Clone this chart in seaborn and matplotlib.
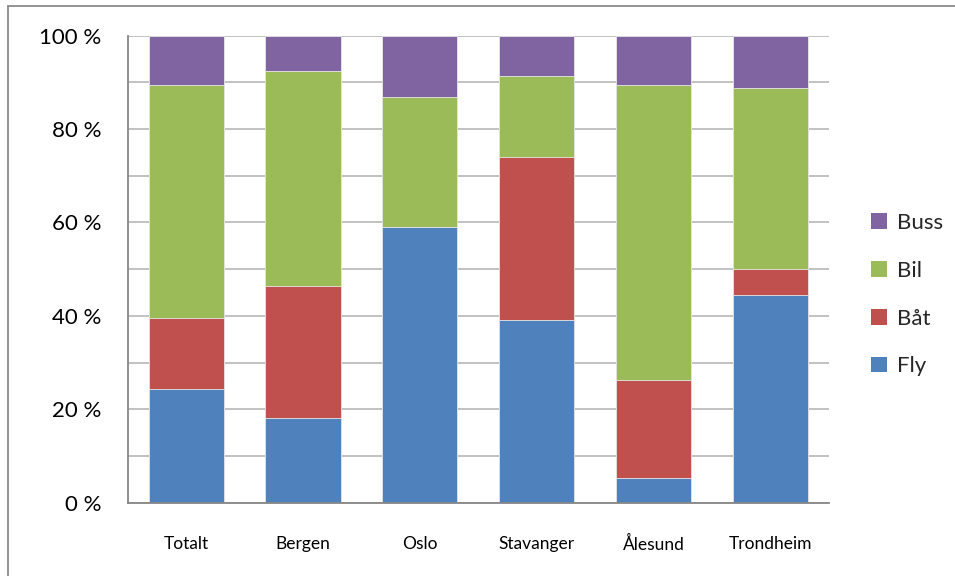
import matplotlib
matplotlib.use("Agg")
import matplotlib.pyplot as plt
import seaborn as sns
import pandas as pd
import numpy as np
from matplotlib.patches import Patch
from matplotlib.lines import Line2D

# Share of travel mode per city (percent)
cities = ["Totalt", "Bergen", "Oslo", "Stavanger", "Ålesund", "Trondheim"]
fly = [24.3, 18.1, 59.0, 39.1, 5.2, 44.4]
baat = [15.3, 28.4, 0.0, 34.9, 21.0, 5.6]
bil = [49.8, 45.9, 27.9, 17.3, 63.2, 38.8]
buss = [10.6, 7.6, 13.1, 8.7, 10.6, 11.2]

modes = ["Fly", "Båt", "Bil", "Buss"]
colors = {"Fly": "#4F81BD", "Båt": "#C0504D", "Bil": "#9BBB59", "Buss": "#8064A2"}
y_ticks = [0, 20, 40, 60, 80, 100]
y_ticklabels = ["0 %", "20 %", "40 %", "60 %", "80 %", "100 %"]

sns.set_theme(style="white")
plt.rcParams["font.family"] = ["Lato", "DejaVu Sans"]

df = pd.DataFrame({"city": cities, "Fly": fly, "Båt": baat, "Bil": bil, "Buss": buss})
cum = df[modes].cumsum(axis=1)
cum["city"] = df["city"]

fig = plt.figure(figsize=(9.55, 5.76), dpi=100)
ax = fig.add_axes([0.1337, 0.1273, 0.868 - 0.1337, 0.938 - 0.1273])

# Stacked bars drawn as cumulative layers, tallest first
for i, mode in enumerate(reversed(modes)):
    sns.barplot(data=cum, x="city", y=mode, order=cities, color=colors[mode],
                width=0.643, saturation=1, ax=ax, zorder=3 + i,
                edgecolor="#e8e8e8", linewidth=0.6)

ax.set_xlim(-0.5, len(cities) - 0.5)
ax.set_ylim(0, 100)
ax.set_yticks(y_ticks)
ax.set_yticklabels(y_ticklabels, fontsize=16)
ax.set_yticks(np.arange(10, 100, 20), minor=True)
ax.set_xticks(range(len(cities)))
ax.set_xticklabels(cities, fontsize=12.5)
ax.set_xlabel("")
ax.set_ylabel("")

ax.yaxis.grid(True, which="both", color="#bdbdbd", linewidth=1.3, zorder=0)
ax.xaxis.grid(False)
ax.set_axisbelow(True)
ax.tick_params(axis="y", which="both", length=0, pad=19, colors="black")
ax.tick_params(axis="x", length=0, pad=24, colors="black")

for side in ["top", "right"]:
    ax.spines[side].set_visible(False)
for side in ["left", "bottom"]:
    ax.spines[side].set_color("#868686")
    ax.spines[side].set_linewidth(1.3)
    ax.spines[side].set_zorder(20)

handles = [Patch(facecolor=colors[m], edgecolor="none", label=m) for m in reversed(modes)]
fig.legend(handles=handles, loc="center left", bbox_to_anchor=(0.903, 0.4885),
           frameon=False, fontsize=16, handlelength=0.72, handleheight=0.72,
           handletextpad=0.45, labelspacing=1.25, borderaxespad=0)

# Chart frame along the left and top edges
fig.add_artist(Line2D([8 / 955, 8 / 955], [0, 1 - 6 / 576], transform=fig.transFigure,
                      color="#8a8a8a", linewidth=1.3))
fig.add_artist(Line2D([8 / 955, 1], [1 - 6 / 576, 1 - 6 / 576], transform=fig.transFigure,
                      color="#8a8a8a", linewidth=1.3))

fig.savefig("out.png", dpi=100, facecolor="white")
